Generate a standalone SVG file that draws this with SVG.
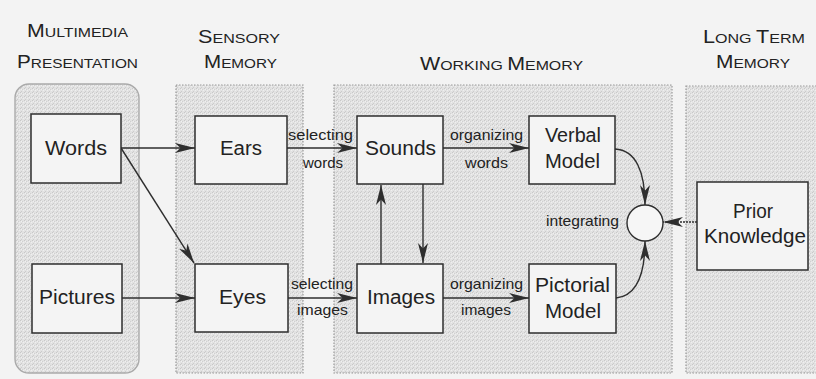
<svg xmlns="http://www.w3.org/2000/svg" width="816" height="379" viewBox="0 0 816 379">
<style>
text{font-family:"Liberation Sans",Arial,sans-serif;fill:#222}
.hd{font-size:13px}
.hd tspan.c{font-size:17.5px}
.nl{font-size:20px}
.sl{font-size:14.5px}
.box{fill:#f4f4f4;stroke:#2e2e2e;stroke-width:1.5}
.panel{fill:url(#spk);stroke:#999;stroke-width:1.2;stroke-dasharray:1.5 1.5}
.conn{fill:none;stroke:#2e2e2e;stroke-width:1.4}
</style>
<defs>
<pattern id="spk" width="4" height="4" patternUnits="userSpaceOnUse">
<rect width="4" height="4" fill="#e2e2e2"/>
<rect x="0" y="0" width="1" height="1" fill="#c8c8c8"/>
<rect x="2" y="1" width="1" height="1" fill="#d0d0d0"/>
<rect x="1" y="3" width="1" height="1" fill="#cccccc"/>
<rect x="3" y="2" width="1" height="1" fill="#efefef"/>
<rect x="1" y="1" width="1" height="1" fill="#f0f0f0"/>
</pattern>
<marker id="ah" markerUnits="userSpaceOnUse" markerWidth="21" markerHeight="11" refX="20" refY="5.5" orient="auto" viewBox="0 0 21 11">
<path d="M0,0.5 L20,5.5 L0,10.5 L5.5,5.5 z" fill="#2e2e2e"/>
</marker>
</defs>
<rect width="816" height="379" fill="#f3f3f3"/>

<g id="panels">
<rect id="panel-multimedia" x="15" y="84" width="124" height="289" rx="14" fill="url(#spk)" stroke="#aaa" stroke-width="1.4"/>
<rect id="panel-sensory" class="panel" x="176" y="85" width="127" height="288"/>
<rect id="panel-working" class="panel" x="334" y="85" width="338" height="288"/>
<rect id="panel-longterm" class="panel" x="686" y="86" width="135" height="287"/>
</g>

<g id="headers">
<text class="hd" x="27" y="37" textLength="101" lengthAdjust="spacingAndGlyphs"><tspan class="c">M</tspan>ULTIMEDIA</text>
<text class="hd" x="17" y="68" textLength="121" lengthAdjust="spacingAndGlyphs"><tspan class="c">P</tspan>RESENTATION</text>
<text class="hd" x="198" y="43" textLength="82" lengthAdjust="spacingAndGlyphs"><tspan class="c">S</tspan>ENSORY</text>
<text class="hd" x="204" y="68" textLength="73" lengthAdjust="spacingAndGlyphs"><tspan class="c">M</tspan>EMORY</text>
<text class="hd" x="420" y="70" textLength="163" lengthAdjust="spacingAndGlyphs"><tspan class="c">W</tspan>ORKING <tspan class="c">M</tspan>EMORY</text>
<text class="hd" x="703" y="43" textLength="102" lengthAdjust="spacingAndGlyphs"><tspan class="c">L</tspan>ONG <tspan class="c">T</tspan>ERM</text>
<text class="hd" x="716" y="68" textLength="74" lengthAdjust="spacingAndGlyphs"><tspan class="c">M</tspan>EMORY</text>
</g>

<g id="connectors">
<path class="conn" marker-end="url(#ah)" d="M121,148 L195,148"/>
<path class="conn" marker-end="url(#ah)" d="M121,148 L194,263"/>
<path class="conn" marker-end="url(#ah)" d="M122,298 L195,298"/>
<path class="conn" marker-end="url(#ah)" d="M287,148 L357,148"/>
<path class="conn" marker-end="url(#ah)" d="M288,298 L357,298"/>
<path class="conn" marker-end="url(#ah)" d="M443,148 L529,148"/>
<path class="conn" marker-end="url(#ah)" d="M443,298 L529,298"/>
<path class="conn" marker-end="url(#ah)" d="M381,264 L381,185"/>
<path class="conn" marker-end="url(#ah)" d="M423,184 L423,263"/>
<path class="conn" marker-end="url(#ah)" d="M615,149 C636,150 645,172 645,205"/>
<path class="conn" marker-end="url(#ah)" d="M616,298 C636,296 645,275 645,241"/>
<path class="conn" marker-end="url(#ah)" d="M697,222 L663,222" stroke-dasharray="2 1"/>
<text class="sl" x="288" y="140" textLength="65" lengthAdjust="spacingAndGlyphs">selecting</text>
<text class="sl" x="303" y="168" textLength="40" lengthAdjust="spacingAndGlyphs">words</text>
<text class="sl" x="450" y="140" textLength="73" lengthAdjust="spacingAndGlyphs">organizing</text>
<text class="sl" x="465" y="168" textLength="43" lengthAdjust="spacingAndGlyphs">words</text>
<text class="sl" x="291" y="289" textLength="62" lengthAdjust="spacingAndGlyphs">selecting</text>
<text class="sl" x="297" y="315" textLength="51" lengthAdjust="spacingAndGlyphs">images</text>
<text class="sl" x="450" y="289" textLength="73" lengthAdjust="spacingAndGlyphs">organizing</text>
<text class="sl" x="461" y="315" textLength="50" lengthAdjust="spacingAndGlyphs">images</text>
<text class="sl" x="546" y="226" textLength="73" lengthAdjust="spacingAndGlyphs">integrating</text>
</g>

<g id="node-words"><rect class="box" x="31" y="114" width="90" height="69"/><text class="nl" x="45" y="155" textLength="62" lengthAdjust="spacingAndGlyphs">Words</text></g>
<g id="node-pictures"><rect class="box" x="32" y="264" width="90" height="69"/><text class="nl" x="39" y="304" textLength="76" lengthAdjust="spacingAndGlyphs">Pictures</text></g>
<g id="node-ears"><rect class="box" x="195" y="116" width="92" height="68"/><text class="nl" x="220" y="155" textLength="42" lengthAdjust="spacingAndGlyphs">Ears</text></g>
<g id="node-eyes"><rect class="box" x="195" y="264" width="93" height="68"/><text class="nl" x="219" y="304" textLength="47" lengthAdjust="spacingAndGlyphs">Eyes</text></g>
<g id="node-sounds"><rect class="box" x="357" y="116" width="86" height="68"/><text class="nl" x="365" y="155" textLength="71" lengthAdjust="spacingAndGlyphs">Sounds</text></g>
<g id="node-images"><rect class="box" x="357" y="264" width="86" height="69"/><text class="nl" x="367" y="304" textLength="68" lengthAdjust="spacingAndGlyphs">Images</text></g>
<g id="node-verbal"><rect class="box" x="529" y="116" width="86" height="68"/><text class="nl" x="545" y="142" textLength="56" lengthAdjust="spacingAndGlyphs">Verbal</text><text class="nl" x="545" y="168" textLength="55" lengthAdjust="spacingAndGlyphs">Model</text></g>
<g id="node-pictorial"><rect class="box" x="529" y="264" width="87" height="69"/><text class="nl" x="535" y="292" textLength="75" lengthAdjust="spacingAndGlyphs">Pictorial</text><text class="nl" x="545" y="318" textLength="56" lengthAdjust="spacingAndGlyphs">Model</text></g>
<g id="node-integrating"><circle cx="645" cy="223" r="18" fill="#f6f6f6" stroke="#2e2e2e" stroke-width="1.4"/></g>
<g id="node-prior"><rect class="box" x="697" y="182" width="111" height="88"/><text class="nl" x="733" y="218" textLength="40" lengthAdjust="spacingAndGlyphs">Prior</text><text class="nl" x="704" y="243" textLength="102" lengthAdjust="spacingAndGlyphs">Knowledge</text></g>
</svg>
